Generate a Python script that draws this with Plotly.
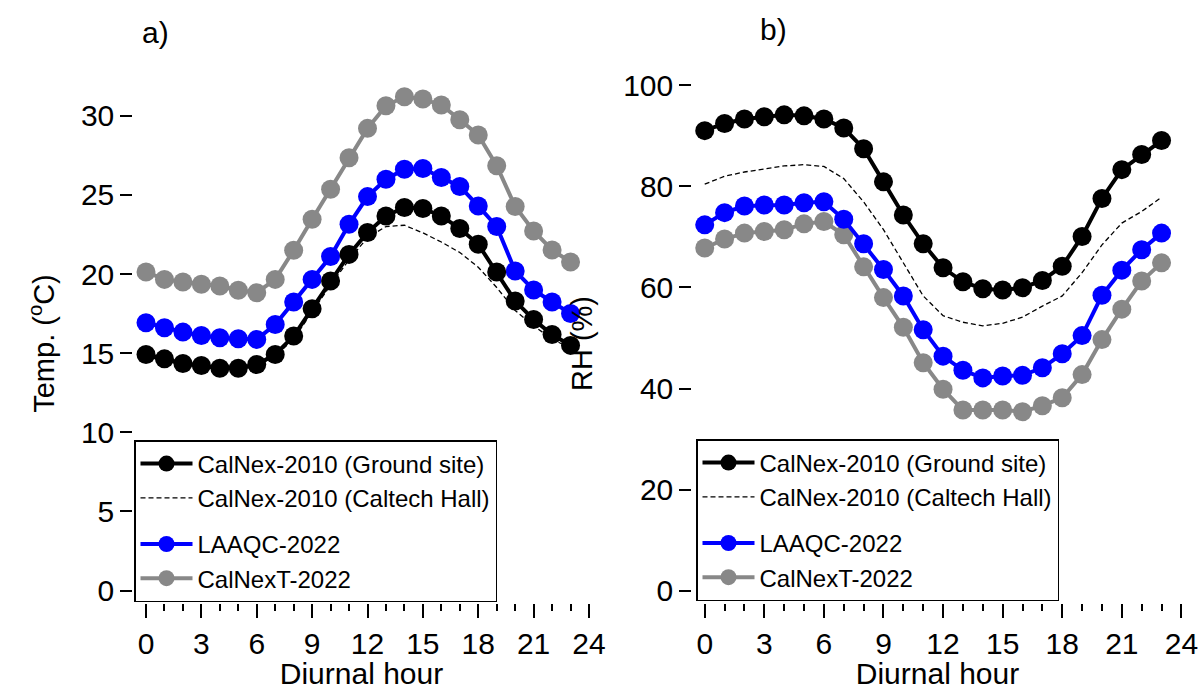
import plotly.graph_objects as go

hours = list(range(24))

# Panel a: temperature (deg C)
temp_ground = [14.92, 14.64, 14.35, 14.22, 14.05, 14.05, 14.28, 14.92, 16.08, 17.81, 19.56, 21.24,
               22.62, 23.67, 24.20, 24.14, 23.67, 22.87, 21.88, 20.13, 18.29, 17.13, 16.18, 15.49]
temp_hall = [14.80, 14.50, 14.30, 14.10, 14.00, 14.00, 14.20, 14.80, 15.90, 17.60, 19.30, 20.90,
             22.30, 23.00, 23.08, 22.60, 22.02, 21.36, 20.43, 19.15, 17.70, 16.72, 15.90, 15.30]
temp_laaqc = [16.92, 16.60, 16.33, 16.12, 15.97, 15.91, 15.87, 16.81, 18.23, 19.66, 21.10, 23.14,
              24.89, 25.99, 26.62, 26.67, 26.10, 25.53, 24.30, 23.00, 20.19, 18.99, 18.23, 17.51]
temp_calnext = [20.13, 19.66, 19.49, 19.35, 19.24, 18.97, 18.82, 19.66, 21.50, 23.46, 25.36, 27.34,
                29.20, 30.63, 31.20, 31.05, 30.68, 29.75, 28.78, 26.84, 24.26, 22.72, 21.52, 20.76]

# Panel b: relative humidity (%)
rh_ground = [90.98, 92.40, 93.27, 93.73, 94.10, 93.90, 93.27, 91.50, 87.40, 80.85, 74.30, 68.60,
             63.86, 61.10, 59.74, 59.48, 59.93, 61.37, 64.18, 70.07, 77.58, 83.27, 86.27, 89.02]
rh_hall = [80.4, 81.96, 82.8, 83.46, 84.0, 84.25, 83.9, 81.5, 76.9, 71.4, 64.8, 58.3,
           54.4, 53.1, 52.4, 52.9, 54.1, 56.3, 58.3, 62.9, 68.4, 72.7, 75.0, 77.8]
rh_laaqc = [72.35, 74.77, 76.08, 76.27, 76.27, 76.73, 76.93, 73.46, 68.63, 63.53, 58.30, 51.63,
            46.40, 43.60, 42.10, 42.48, 42.60, 44.10, 46.86, 50.46, 58.43, 63.40, 67.45, 70.72]
rh_calnext = [67.78, 69.54, 70.72, 71.05, 71.37, 72.55, 73.00, 70.40, 64.05, 57.97, 52.10, 45.10,
              39.87, 35.75, 35.75, 35.75, 35.42, 36.60, 38.17, 42.75, 49.67, 55.69, 61.24, 64.84]

series_names = ["CalNex-2010 (Ground site)", "CalNex-2010 (Caltech Hall)", "LAAQC-2022", "CalNexT-2022"]
x_ticks = [0, 3, 6, 9, 12, 15, 18, 21, 24]
temp_ticks = [0, 5, 10, 15, 20, 25, 30]
rh_ticks = [0, 20, 40, 60, 80, 100]

FONT = "Arial, 'Liberation Sans', sans-serif"
BLACK = "#000000"
BLUE = "#0000FF"
GRAY = "#888888"

fig = go.Figure()


def add_panel(xa, ya, leg, ground, hall, laaqc, calnext):
    fig.add_trace(go.Scatter(x=hours, y=ground, name=series_names[0], mode="lines+markers",
                             line=dict(color=BLACK, width=4), marker=dict(size=19, color=BLACK),
                             xaxis=xa, yaxis=ya, legend=leg, legendgroup="g1", zorder=3))
    fig.add_trace(go.Scatter(x=hours, y=hall, name=series_names[1], mode="lines",
                             line=dict(color=BLACK, width=1.3, dash="5px,3px"),
                             xaxis=xa, yaxis=ya, legend=leg, legendgroup="g1", zorder=2))
    fig.add_trace(go.Scatter(x=hours, y=laaqc, name=series_names[2], mode="lines+markers",
                             line=dict(color=BLUE, width=4), marker=dict(size=19, color=BLUE),
                             xaxis=xa, yaxis=ya, legend=leg, legendgroup="g2", zorder=1))
    fig.add_trace(go.Scatter(x=hours, y=calnext, name=series_names[3], mode="lines+markers",
                             line=dict(color=GRAY, width=4), marker=dict(size=19, color=GRAY),
                             xaxis=xa, yaxis=ya, legend=leg, legendgroup="g2", zorder=0))


add_panel("x", "y", "legend", temp_ground, temp_hall, temp_laaqc, temp_calnext)
add_panel("x2", "y2", "legend2", rh_ground, rh_hall, rh_laaqc, rh_calnext)

ML, MR, MT, MB = 134, 19, 85, 88
W, H = 1201, 690
PW = W - ML - MR
PH = H - MT - MB


def px_x(p):
    return (p - ML) / PW


def px_y(p):
    return 1 - (p - MT) / PH


xcommon = dict(showline=True, linecolor=BLACK, linewidth=2, ticks="outside", ticklen=14,
               tickwidth=1.5, tickcolor=BLACK, tickvals=x_ticks, showgrid=False, zeroline=False,
               automargin=False,
               tickfont=dict(size=30, color=BLACK, family=FONT),
               minor=dict(dtick=1, tick0=0, ticks="outside", ticklen=7, tickwidth=1.5, tickcolor=BLACK),
               title=dict(text="Diurnal hour", font=dict(size=30, color=BLACK, family=FONT), standoff=5))
ycommon = dict(showline=True, linecolor=BLACK, linewidth=1.5, ticks="outside", ticklen=12,
               tickwidth=1.5, tickcolor=BLACK, showgrid=False, zeroline=False, automargin=False,
               tickfont=dict(size=30, color=BLACK, family=FONT))

legcommon = dict(bordercolor=BLACK, borderwidth=1.5, bgcolor="white", traceorder="grouped",
                 tracegroupgap=12, itemwidth=52, xanchor="left", yanchor="top",
                 font=dict(size=24, color=BLACK, family=FONT))

fig.update_layout(
    width=W, height=H,
    margin=dict(l=ML, r=MR, t=MT, b=MB, autoexpand=False),
    plot_bgcolor="white", paper_bgcolor="white",
    font=dict(family=FONT, color=BLACK),
    showlegend=True,
    xaxis=dict(domain=[0, px_x(589)], range=[-0.65, 24], anchor="y", **xcommon),
    xaxis2=dict(domain=[px_x(693), 1], range=[-0.59, 24.03], anchor="y2", **xcommon),
    yaxis=dict(domain=[0, 1], range=[-0.72, 31.94], anchor="x", tickvals=temp_ticks,
               title=dict(text="Temp. (<sup>o</sup>C)", font=dict(size=29, color=BLACK, family=FONT), standoff=18),
               **ycommon),
    yaxis2=dict(domain=[0, 1], range=[-2.2, 100], anchor="x2", tickvals=rh_ticks,
                title=dict(text="RH (%)", font=dict(size=29, color=BLACK, family=FONT), standoff=22),
                **ycommon),
    legend=dict(x=px_x(134), y=px_y(440), **legcommon),
    legend2=dict(x=px_x(696), y=px_y(439), **legcommon),
    annotations=[
        dict(text="a)", x=px_x(155), y=px_y(33), xref="paper", yref="paper", showarrow=False,
             xanchor="center", yanchor="middle",
             font=dict(size=30, color=BLACK, family=FONT)),
        dict(text="b)", x=px_x(773), y=px_y(30), xref="paper", yref="paper", showarrow=False,
             xanchor="center", yanchor="middle",
             font=dict(size=30, color=BLACK, family=FONT)),
    ],
)

fig.write_html("out.html", config={"displayModeBar": False},
               post_script="document.body.style.margin='0';")
